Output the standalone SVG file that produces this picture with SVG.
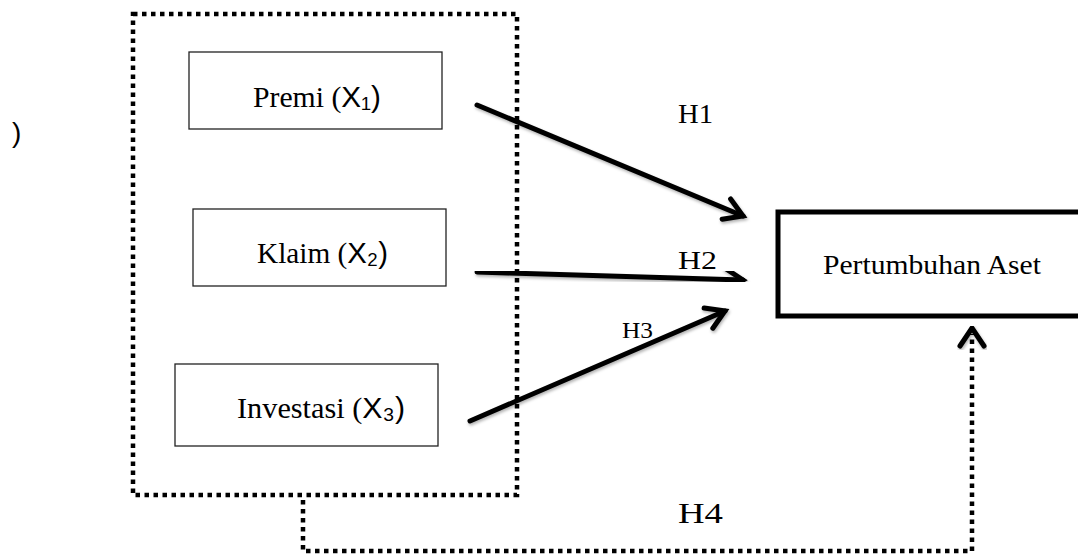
<svg xmlns="http://www.w3.org/2000/svg" width="1078" height="555" viewBox="0 0 1078 555">
<style>
.box{fill:#fff;stroke:#222;stroke-width:1.3}
.main{fill:#fff;stroke:#000;stroke-width:5}
.dot{fill:none;stroke:#000;stroke-width:4.5;stroke-dasharray:4.5 4.5}
.arr{fill:none;stroke:#000;stroke-width:5;stroke-linecap:round}
.t{font-family:"Liberation Serif","Times New Roman",serif;fill:#000}
.s{font-family:"Liberation Sans",Arial,sans-serif}
</style>
<defs>
<filter id="sh" x="-10%" y="-10%" width="120%" height="130%">
<feDropShadow dx="1" dy="2" stdDeviation="1.5" flood-color="#000" flood-opacity="0.3"/>
</filter>
<marker id="ah" markerUnits="userSpaceOnUse" markerWidth="40" markerHeight="40" viewBox="-30 -20 40 40" refX="0" refY="0" orient="auto" overflow="visible">
<path d="M-18,-11 L0,0 L-18,11" fill="none" stroke="#000" stroke-width="5" stroke-linecap="round" stroke-linejoin="miter"/>
</marker>
</defs>
<rect width="1078" height="555" fill="#fff"/>
<text class="t s" x="12" y="142" font-size="28">)</text>
<g id="group-x">
<rect class="dot" x="133" y="14" width="384" height="481"/>
</g>
<g id="premi">
<rect class="box" x="189" y="52" width="253" height="77"/>
<text class="t" x="253" y="107" font-size="30" textLength="128" lengthAdjust="spacingAndGlyphs">Premi (<tspan class="s">X₁)</tspan></text>
</g>
<g id="klaim">
<rect class="box" x="193" y="209" width="253" height="77"/>
<text class="t" x="257" y="263" font-size="30" textLength="131" lengthAdjust="spacingAndGlyphs">Klaim (<tspan class="s">X₂)</tspan></text>
</g>
<g id="investasi">
<rect class="box" x="175" y="364" width="263" height="82"/>
<text class="t" x="237" y="418" font-size="30" textLength="168" lengthAdjust="spacingAndGlyphs">Investasi (<tspan class="s">X₃)</tspan></text>
</g>
<g id="pertumbuhan">
<rect class="main" x="778" y="212" width="310" height="104"/>
<text class="t" x="823" y="274" font-size="28" textLength="218" lengthAdjust="spacingAndGlyphs">Pertumbuhan Aset</text>
</g>
<g id="connectors">
<path class="arr" d="M477,105 L743,216" marker-end="url(#ah)" filter="url(#sh)"/>
<path class="arr" d="M477,272 L743,280" marker-end="url(#ah)" filter="url(#sh)"/>
<path class="arr" d="M470,421 L725,311" marker-end="url(#ah)" filter="url(#sh)"/>
<path class="dot" d="M303,500 V551 H972 V334"/>
<path class="arr" d="M960,346 L972,328 L984,346" filter="url(#sh)"/>
</g>
<g id="labels">
<text class="t" x="678" y="123" font-size="27" textLength="35" lengthAdjust="spacingAndGlyphs">H1</text>
<text class="t" x="678" y="269" font-size="26" textLength="39" lengthAdjust="spacingAndGlyphs">H2</text>
<text class="t" x="622" y="338" font-size="24" textLength="31" lengthAdjust="spacingAndGlyphs">H3</text>
<text class="t" x="678" y="523" font-size="30" textLength="45" lengthAdjust="spacingAndGlyphs">H4</text>
</g>
</svg>
